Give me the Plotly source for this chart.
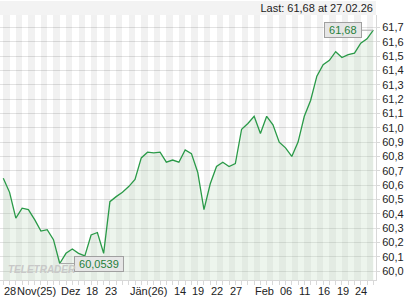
import plotly.graph_objects as go

values = [60.648, 60.55, 60.37, 60.44, 60.43, 60.36, 60.28, 60.29, 60.22, 60.0539,
          60.125, 60.155, 60.125, 60.107, 60.253, 60.27, 60.125, 60.485, 60.52, 60.55,
          60.59, 60.64, 60.79, 60.83, 60.825, 60.83, 60.76, 60.775, 60.76, 60.845,
          60.82, 60.69, 60.43, 60.61, 60.73, 60.76, 60.73, 60.75, 60.99, 61.03,
          61.08, 60.96, 61.08, 61.02, 60.90, 60.86, 60.80, 60.90, 61.08, 61.19,
          61.36, 61.44, 61.47, 61.53, 61.49, 61.51, 61.52, 61.59, 61.62, 61.68]
idx = list(range(len(values)))
tick_idx = [0, 2, 9, 13, 16, 20, 27, 30, 33, 36, 40, 44, 47, 50, 53, 56]
tick_labels = ["28", "Nov(25)", "Dez", "18", "23", "Jän(26)", "14", "19", "22", "27",
               "Feb", "06", "11", "16", "19", "24"]
y_ticks = [round(60.0 + 0.1 * k, 1) for k in range(18)]
last_date = "27.02.26"

FONT = "Liberation Sans, Arial, sans-serif"
GREEN = "#2a9a48"
Y0, Y1 = 59.939, 61.786

def fmt(v, d):
    return f"{v:.{d}f}".replace(".", ",")

min_i = min(idx, key=lambda i: values[i])
last_i = idx[-1]

stripe_x = [i + 0.5 for i in idx[:-1] if i % 2 == 0]

fig = go.Figure()
fig.add_trace(go.Bar(x=stripe_x, y=[Y1 - Y0] * len(stripe_x), base=Y0, width=1,
                     marker=dict(color="rgba(0,0,0,0.055)", line=dict(width=0)),
                     hoverinfo="skip"))
fig.add_trace(go.Scatter(x=idx, y=values, mode="lines",
                         line=dict(color=GREEN, width=1.3),
                         fill="tozeroy", fillcolor="rgba(190,220,190,0.28)",
                         hoverinfo="skip"))

annotations = []
for ti, tl in zip(tick_idx, tick_labels):
    annotations.append(dict(x=ti, y=0, xref="x", yref="paper", text=tl,
                            showarrow=False, xanchor="left", yanchor="middle",
                            yshift=-11, xshift=-1,
                            font=dict(family=FONT, size=11, color="#222")))
# header band with last value text
annotations.append(dict(x=0, y=1, xref="paper", yref="paper",
                        text=f"Last: {fmt(values[-1], 2)} at {last_date} ",
                        showarrow=False, xanchor="left", yanchor="bottom",
                        width=376, height=14, align="right", valign="middle",
                        bgcolor="#f3f3f3", borderpad=0, borderwidth=0,
                        font=dict(family=FONT, size=11, color="#222")))
annotations.append(dict(x=min_i, y=values[min_i], xref="x", yref="y",
                        text="&nbsp;" + fmt(values[min_i], 4) + "&nbsp;",
                        showarrow=True, arrowhead=0,
                        arrowcolor="#aaaaaa", arrowwidth=1, ax=39, ay=0,
                        bgcolor="#e6e6e6", bordercolor="#a0a0a0", borderwidth=1,
                        borderpad=1, font=dict(family=FONT, size=11, color="#1f7f3a")))
annotations.append(dict(x=last_i, y=values[last_i], xref="x", yref="y",
                        text="&nbsp;" + fmt(values[last_i], 2) + "&nbsp;",
                        showarrow=True, arrowhead=0,
                        arrowcolor="#aaaaaa", arrowwidth=1, ax=-30, ay=0,
                        bgcolor="#e6e6e6", bordercolor="#a0a0a0", borderwidth=1,
                        borderpad=1, font=dict(family=FONT, size=11, color="#1f7f3a")))
annotations.append(dict(x=0, y=0, xref="paper", yref="paper", text="TELETRADER",
                        showarrow=False, xanchor="left", yanchor="bottom",
                        xshift=6, yshift=3,
                        font=dict(family=FONT, size=10, color="#c8c8c8",
                                  weight="bold", style="italic")))

fig.update_layout(
    width=420, height=300,
    margin=dict(l=0, r=44, t=15, b=20),
    paper_bgcolor="white", plot_bgcolor="white",
    separators=",.",
    showlegend=False, bargap=0,
    annotations=annotations,
    xaxis=dict(range=[-0.526, 59.43], tickvals=idx, showticklabels=False,
               ticks="outside", ticklen=4, tickcolor="#d8d8d8", showgrid=False,
               zeroline=False, showline=True, linecolor="#d8d8d8", linewidth=1),
    yaxis=dict(range=[Y0, Y1], side="right", tickvals=y_ticks,
               tickformat=".1f", ticks="outside", ticklen=3, tickcolor="#d8d8d8",
               showgrid=True, gridcolor="#e2e2e2", gridwidth=1, zeroline=False,
               showline=True, linecolor="#d8d8d8", linewidth=1,
               tickfont=dict(family=FONT, size=11, color="#222")),
)

fig.write_html("out.html")
